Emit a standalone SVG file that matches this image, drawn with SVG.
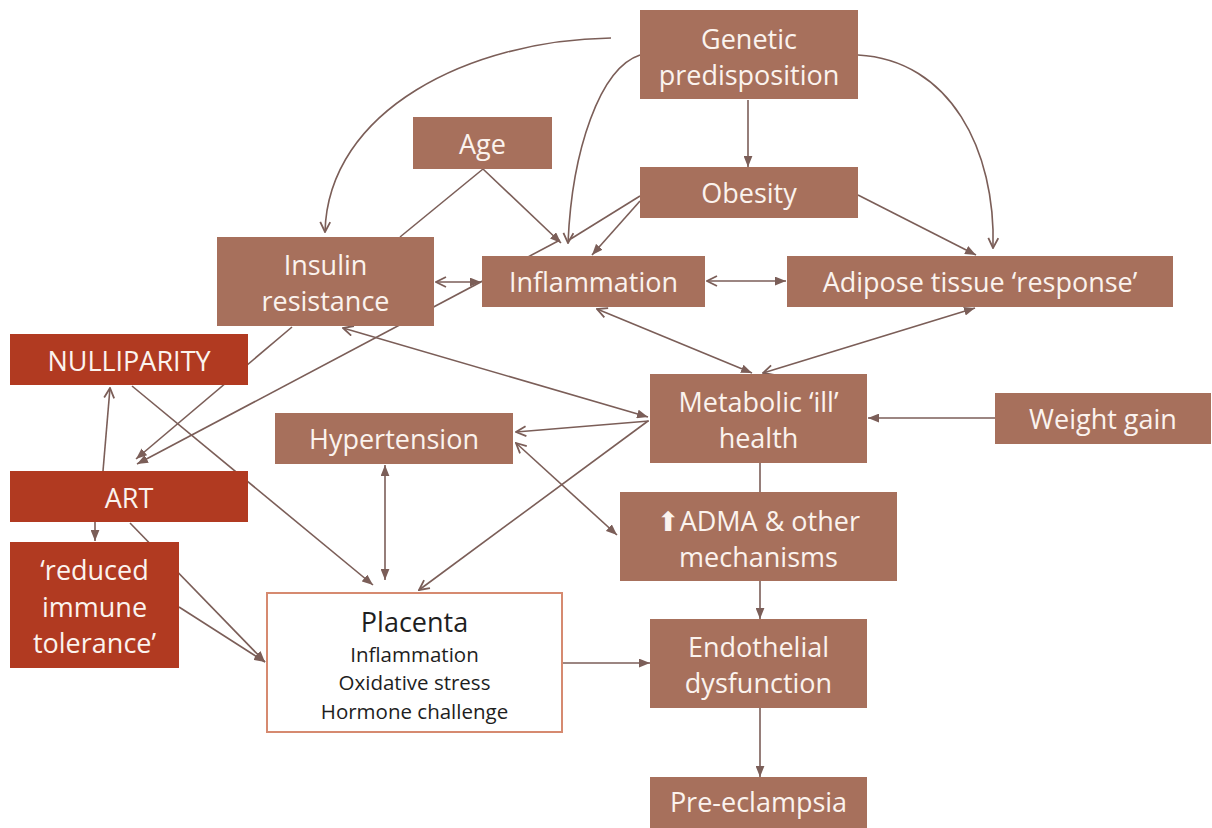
<svg xmlns="http://www.w3.org/2000/svg" width="1212" height="828" viewBox="0 0 1212 828">
<style>
.b{fill:#a7705c}
.r{fill:#b13a21}
.t{font-family:"Open Sans","Liberation Sans",sans-serif;font-size:27px;fill:#fbf3ee;text-anchor:middle}
.p{font-family:"Open Sans","Liberation Sans",sans-serif;fill:#1e1e1e;text-anchor:middle}
.c line,.c path{stroke:#7b5e58;stroke-width:1.6;fill:none}
.f{marker-end:url(#fa)}
.o{marker-end:url(#oa)}
</style>
<defs>
<marker id="fa" viewBox="0 0 10 8" refX="10" refY="4" markerWidth="11" markerHeight="9" markerUnits="userSpaceOnUse" orient="auto-start-reverse"><path d="M0,0 L10,4 L0,8 z" fill="#7b5e58"/></marker>
<marker id="oa" viewBox="0 0 12 12" refX="11" refY="6" markerWidth="12" markerHeight="12" markerUnits="userSpaceOnUse" orient="auto-start-reverse"><path d="M1,1 L11,6 L1,11" fill="none" stroke="#7b5e58" stroke-width="1.8"/></marker>
</defs>
<rect width="1212" height="828" fill="#ffffff"/>
<g class="c" id="connectors">
<line class="f" x1="748" y1="100" x2="748" y2="167"/>
<path class="o" d="M858,55 C950,60 996,150 993,248"/>
<path class="o" d="M640,55 C600,68 572,150 568,243"/>
<path class="o" d="M611,38 C470,40 328,110 325,232"/>
<line class="f" x1="483" y1="169" x2="561" y2="243"/>
<line x1="483" y1="169" x2="400" y2="237"/>
<line x1="640" y1="196" x2="569" y2="240"/>
<line class="f" x1="640" y1="201" x2="592" y2="255"/>
<line class="f" x1="858" y1="195" x2="976" y2="255"/>
<line class="f" x1="436" y1="282" x2="481" y2="282" style="marker-start:url(#oa)"/>
<line class="f" x1="707" y1="281" x2="786" y2="281" style="marker-start:url(#oa)"/>
<line class="f" x1="597" y1="309" x2="752" y2="373" style="marker-start:url(#oa)"/>
<line class="o" x1="975" y1="308" x2="763" y2="373" style="marker-start:url(#fa)"/>
<line class="f" x1="343" y1="328" x2="648" y2="417" style="marker-start:url(#oa)"/>
<line class="o" x1="649" y1="421" x2="516" y2="432"/>
<line class="f" x1="516" y1="443" x2="617" y2="535" style="marker-start:url(#oa)"/>
<line class="o" x1="648" y1="421" x2="419" y2="590"/>
<line class="f" x1="385" y1="465" x2="385" y2="580" style="marker-start:url(#fa)"/>
<line class="f" x1="132" y1="386" x2="373" y2="585"/>
<line class="o" x1="103" y1="471" x2="110" y2="388"/>
<line class="f" x1="95" y1="522" x2="95" y2="541"/>
<line class="f" x1="130" y1="523" x2="265" y2="662"/>
<line class="f" x1="179" y1="607" x2="265" y2="662"/>
<line class="f" x1="292" y1="327" x2="136" y2="459"/>
<line class="f" x1="560" y1="240" x2="137" y2="464"/>
<line class="f" x1="562" y1="663" x2="650" y2="663"/>
<line x1="760" y1="463" x2="760" y2="492"/>
<line class="f" x1="760" y1="581" x2="760" y2="619"/>
<line class="f" x1="760" y1="708" x2="760" y2="777"/>
<line class="f" x1="995" y1="418" x2="868" y2="418"/>
</g>
<g id="genetic"><rect class="b" x="640" y="10" width="218" height="89"/><text class="t" x="749" y="49">Genetic</text><text class="t" x="749" y="85">predisposition</text></g>
<g id="obesity"><rect class="b" x="640" y="167" width="218" height="51"/><text class="t" x="749" y="203">Obesity</text></g>
<g id="age"><rect class="b" x="413" y="117" width="139" height="52"/><text class="t" x="482.5" y="154">Age</text></g>
<g id="insulin"><rect class="b" x="217" y="237" width="217" height="89"/><text class="t" x="325.5" y="275">Insulin</text><text class="t" x="325.5" y="311">resistance</text></g>
<g id="inflammation"><rect class="b" x="482" y="256" width="223" height="51"/><text class="t" x="593.5" y="292">Inflammation</text></g>
<g id="adipose"><rect class="b" x="787" y="256" width="386" height="51"/><text class="t" x="980" y="292">Adipose tissue ‘response’</text></g>
<g id="nulliparity"><rect class="r" x="10" y="334" width="238" height="51"/><text class="t" x="129" y="371">NULLIPARITY</text></g>
<g id="art"><rect class="r" x="10" y="471" width="238" height="51"/><text class="t" x="129" y="508">ART</text></g>
<g id="reduced"><rect class="r" x="10" y="542" width="169" height="126"/><text class="t" x="94.5" y="580">‘reduced</text><text class="t" x="94.5" y="617">immune</text><text class="t" x="94.5" y="653">tolerance’</text></g>
<g id="hypertension"><rect class="b" x="275" y="413" width="238" height="51"/><text class="t" x="394" y="449">Hypertension</text></g>
<g id="metabolic"><rect class="b" x="650" y="374" width="217" height="89"/><text class="t" x="758.5" y="412">Metabolic ‘ill’</text><text class="t" x="758.5" y="448">health</text></g>
<g id="weight"><rect class="b" x="995" y="393" width="216" height="51"/><text class="t" x="1103" y="429">Weight gain</text></g>
<g id="adma"><rect class="b" x="620" y="492" width="277" height="89"/><text class="t" x="758.5" y="531"><tspan style="font-family:'DejaVu Sans',sans-serif;font-size:27px">⬆</tspan>ADMA &amp; other</text><text class="t" x="758.5" y="567">mechanisms</text></g>
<g id="placenta"><rect x="267" y="593" width="295" height="139" fill="#ffffff" stroke="#d68a70" stroke-width="2"/><text class="p" x="414.5" y="632" font-size="27">Placenta</text><text class="p" x="414.5" y="662" font-size="20.5">Inflammation</text><text class="p" x="414.5" y="690" font-size="20.5">Oxidative stress</text><text class="p" x="414.5" y="719" font-size="20.5">Hormone challenge</text></g>
<g id="endothelial"><rect class="b" x="650" y="619" width="217" height="89"/><text class="t" x="758.5" y="657">Endothelial</text><text class="t" x="758.5" y="693">dysfunction</text></g>
<g id="preeclampsia"><rect class="b" x="650" y="777" width="217" height="51"/><text class="t" x="758.5" y="812">Pre-eclampsia</text></g>
</svg>
